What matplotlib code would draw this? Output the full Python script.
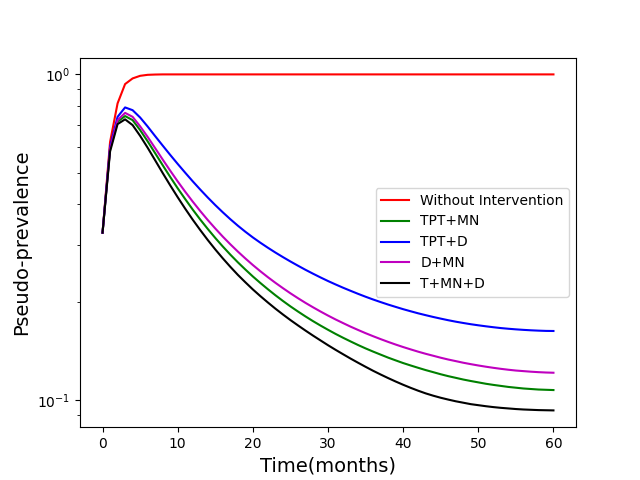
import matplotlib
matplotlib.use("Agg")
import matplotlib.pyplot as plt

months = list(range(61))

without_intervention = [0.327, 0.62, 0.815, 0.934, 0.972, 0.990, 0.997, 0.999] + [1.0] * 53

tpt_mn = [0.327, 0.59, 0.716, 0.745, 0.724, 0.6749, 0.6234, 0.5732, 0.5268, 0.4849,
          0.4474, 0.4145, 0.3849, 0.3588, 0.3357, 0.3150, 0.2966, 0.2801, 0.2653, 0.2521,
          0.2400, 0.2292, 0.2193, 0.2102, 0.2019, 0.1943, 0.1874, 0.1810, 0.1751, 0.1697,
          0.1647, 0.1600, 0.1557, 0.1517, 0.1479, 0.1444, 0.1412, 0.1382, 0.1353, 0.1327,
          0.1302, 0.1280, 0.1259, 0.1239, 0.1221, 0.1203, 0.1187, 0.1173, 0.1159, 0.1147,
          0.1136, 0.1125, 0.1116, 0.1108, 0.1100, 0.1094, 0.1088, 0.1084, 0.1080, 0.1078,
          0.1076]

tpt_d = [0.327, 0.60, 0.741, 0.792, 0.7767, 0.7376, 0.6921, 0.6467, 0.6050, 0.5665,
         0.5314, 0.4994, 0.4700, 0.4434, 0.4192, 0.3973, 0.3776, 0.3597, 0.3436, 0.3292,
         0.3162, 0.3046, 0.2940, 0.2842, 0.2752, 0.2668, 0.2590, 0.2516, 0.2448, 0.2384,
         0.2324, 0.2269, 0.2217, 0.2169, 0.2123, 0.2080, 0.2040, 0.2003, 0.1968, 0.1936,
         0.1905, 0.1877, 0.1850, 0.1826, 0.1803, 0.1782, 0.1762, 0.1744, 0.1728, 0.1713,
         0.1700, 0.1688, 0.1677, 0.1667, 0.1659, 0.1652, 0.1646, 0.1641, 0.1637, 0.1634,
         0.1633]

d_mn = [0.327, 0.59, 0.724, 0.762, 0.7411, 0.6931, 0.6432, 0.5940, 0.5483, 0.5068,
        0.4696, 0.4366, 0.4072, 0.3810, 0.3576, 0.3368, 0.3180, 0.3013, 0.2862, 0.2726,
        0.2602, 0.2490, 0.2388, 0.2295, 0.2210, 0.2131, 0.2059, 0.1992, 0.1931, 0.1874,
        0.1821, 0.1772, 0.1727, 0.1684, 0.1645, 0.1608, 0.1574, 0.1542, 0.1512, 0.1484,
        0.1458, 0.1434, 0.1411, 0.1390, 0.1371, 0.1352, 0.1335, 0.1320, 0.1305, 0.1292,
        0.1280, 0.1269, 0.1259, 0.1250, 0.1242, 0.1235, 0.1230, 0.1225, 0.1221, 0.1218,
        0.1216]

t_mn_d = [0.327, 0.58, 0.704, 0.728, 0.6990, 0.6480, 0.5959, 0.5452, 0.4985, 0.4569,
          0.4200, 0.3873, 0.3584, 0.3331, 0.3105, 0.2905, 0.2728, 0.2570, 0.2428, 0.2304,
          0.2190, 0.2089, 0.1997, 0.1912, 0.1835, 0.1764, 0.1699, 0.1638, 0.1581, 0.1528,
          0.1477, 0.1430, 0.1386, 0.1344, 0.1305, 0.1268, 0.1233, 0.1201, 0.1171, 0.1143,
          0.1117, 0.1093, 0.1071, 0.1051, 0.1034, 0.1019, 0.1006, 0.0994, 0.0984, 0.0974,
          0.0967, 0.0960, 0.0954, 0.0949, 0.0945, 0.0941, 0.0938, 0.0936, 0.0934, 0.0933,
          0.0932]

labels = ["Without Intervention", "TPT+MN", "TPT+D", "D+MN", "T+MN+D"]
colors = ["r", "g", "b", "m", "k"]
series = [without_intervention, tpt_mn, tpt_d, d_mn, t_mn_d]

fig, ax = plt.subplots(figsize=(6.4, 4.8), dpi=100)
for vals, lab, col in zip(series, labels, colors):
    ax.plot(months, vals, color=col, label=lab)
ax.set_yscale("log")
ax.set_xlabel("Time(months)", fontsize=14)
ax.set_ylabel("Pseudo-prevalence", fontsize=14)
ax.legend(loc="center right")
fig.savefig("out.png", dpi=100)
